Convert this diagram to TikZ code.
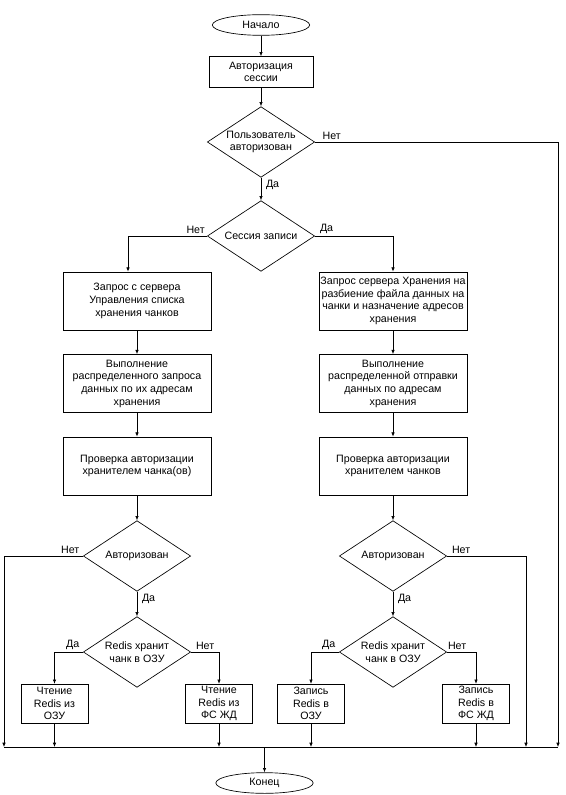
\documentclass[tikz,border=0pt]{standalone}
\usepackage{fontspec}
\setmainfont{Liberation Sans}
\usepackage{xcolor}
\usepackage{tikz}
\usetikzlibrary {arrows.meta,shapes.geometric,positioning}

\tikzset{
  term/.style={draw, ellipse, minimum width=73pt, minimum height=15.5pt, inner sep=0pt},
  stepbox/.style={draw, rectangle, align=center, inner sep=0pt, minimum width=111pt, minimum height=43.5pt},
  smallbox/.style={draw, rectangle, align=center, inner sep=0pt, minimum width=50pt, minimum height=29pt},
  decide/.style={draw, diamond, shape aspect=1.5, align=center, inner sep=0pt, minimum width=80.5pt, minimum height=53pt},
  lbl/.style={inner sep=1.5pt},
  flow/.style={-{Latex[length=3.2pt,width=2.6pt]}}
}

\begin{document}
\begin{tikzpicture}[x=0.75pt, y=-0.75pt, line width=0.5pt,
  font=\fontsize{8}{9.5}\selectfont]
\useasboundingbox (0,0) rectangle (565,795);

\node (start) at (261,25) [term] {Начало};
\node (auth) at (261,72) [draw, align=center, inner sep=0pt, minimum width=78pt, minimum height=23pt] {Авторизация\\сессии};
\node (q1) at (261,142) [decide] {Пользователь\\авторизован};
\node (q2) at (261,236) [decide] {Сессия записи};

\node (l1) at (137,301) [stepbox] {Запрос с сервера\\Управления списка\\хранения чанков};
\node (l2) at (137,383.5) [stepbox] {Выполнение\\распределенного запроса\\данных по их адресам\\хранения};
\node (l3) at (137,466) [stepbox] {Проверка авторизации\\хранителем чанка(ов)};
\node (l4) at (137,556) [decide] {Авторизован};
\node (l5) at (137,652) [decide] {Redis хранит\\чанк в ОЗУ};

\node (r1) at (393,301) [stepbox] {Запрос сервера Хранения на\\разбиение файла данных на\\чанки и назначение адресов\\хранения};
\node (r2) at (393,383.5) [stepbox] {Выполнение\\распределенной отправки\\данных по адресам\\хранения};
\node (r3) at (393,466) [stepbox] {Проверка авторизации\\хранителем чанков};
\node (r4) at (393,556) [decide] {Авторизован};
\node (r5) at (393,652) [decide] {Redis хранит\\чанк в ОЗУ};

\node (b1) at (54.5,703.5) [smallbox] {Чтение\\Redis из\\ОЗУ};
\node (b2) at (219,703.5) [smallbox] {Чтение\\Redis из\\ФС ЖД};
\node (b3) at (311,703.5) [smallbox] {Запись\\Redis в\\ОЗУ};
\node (b4) at (476,703.5) [smallbox] {Запись\\Redis в\\ФС ЖД};

\node (stop) at (264.5,783) [term] {Конец};

\coordinate (busL) at (4,747);
\coordinate (busR) at (558,747);
\coordinate (outA) at (558,142);
\coordinate (outB) at (526,556);

\draw [flow] (start) -- (auth);
\draw [flow] (auth) -- (q1);
\draw [flow] (q1) -- (q2);
\draw [flow] (q1.east) -- (outA) -- (busR);
\draw [flow] (q2.west) -| ([xshift=-6.75pt]l1.north);
\draw [flow] (q2.east) -| (r1.north);

\draw [flow] (l1) -- (l2);
\draw [flow] (l2) -- (l3);
\draw [flow] (l3) -- (l4);
\draw [flow] (l4) -- (l5);
\draw [flow] (l4.west) -| (busL);
\draw [flow] (l5.west) -| (b1.north);
\draw [flow] (l5.east) -| (b2.north);

\draw [flow] (r1) -- (r2);
\draw [flow] (r2) -- (r3);
\draw [flow] (r3) -- (r4);
\draw [flow] (r4) -- (r5);
\draw [flow] (r4.east) -- (outB) -- (outB |- busR);
\draw [flow] (r5.west) -| (b3.north);
\draw [flow] (r5.east) -| (b4.north);

\draw [flow] (b1) -- (b1 |- busL);
\draw [flow] (b2) -- (b2 |- busL);
\draw [flow] (b3) -- (b3 |- busL);
\draw [flow] (b4) -- (b4 |- busL);

\draw (busL) -- (busR);
\draw [flow] (stop |- busL) -- (stop);

\node [lbl, above right, xshift=4pt] at (q1.east) {Нет};
\node [lbl, below right, xshift=2pt] at (q1.south) {Да};
\node [lbl, above left] at (q2.west) {Нет};
\node [lbl, above right, xshift=2pt] at (q2.east) {Да};
\node [lbl, above left, xshift=-1pt] at (l4.west) {Нет};
\node [lbl, below right, xshift=2pt] at (l4.south) {Да};
\node [lbl, above right, xshift=2pt] at (r4.east) {Нет};
\node [lbl, below right, xshift=2pt] at (r4.south) {Да};
\node [lbl, above left, xshift=-1pt] at (l5.west) {Да};
\node [lbl, above right, xshift=2pt] at (l5.east) {Нет};
\node [lbl, above left, xshift=-1pt] at (r5.west) {Да};
\node [lbl, above right, xshift=-1pt] at (r5.east) {Нет};
\end{tikzpicture}
\end{document}
